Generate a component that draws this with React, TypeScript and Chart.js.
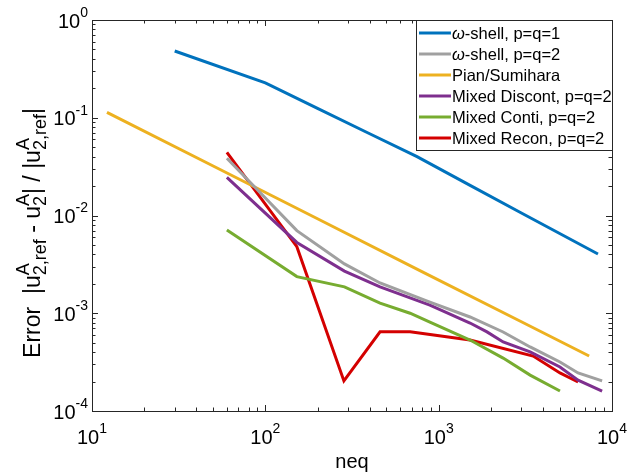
import React, { useEffect, useRef } from 'react';
import { Chart, registerables } from 'chart.js';
Chart.register(...registerables);

// ---- data ----
const blueX = [30, 100, 200, 400, 750, 1500, 3000, 8300];
const blueY = [0.482, 0.227, 0.125, 0.0686, 0.04, 0.0206, 0.0106, 0.00404];

const grayX = [60, 152, 286, 459, 890, 1517, 2355, 3370, 5010, 6370, 8770];
const grayY = [0.0385, 0.007, 0.0032, 0.00204, 0.0013, 0.000916, 0.000643, 0.000452, 0.000317, 0.000245, 0.000203];

const orangeX = [12.2, 50, 200, 800, 3000, 7380];
const orangeY = [0.1137, 0.0321, 0.00926, 0.00267, 0.000818, 0.000365];

const purpleX = [60, 152, 286, 459, 890, 1517, 1900, 2355, 3370, 5010, 6370, 8770];
const purpleY = [0.0246, 0.0053, 0.0027, 0.00186, 0.00121, 0.000794, 0.000645, 0.000508, 0.000402, 0.000282, 0.000207, 0.00016];

const greenX = [60, 152, 286, 459, 684, 890, 1517, 2355, 3370, 5010];
const greenY = [0.00711, 0.00237, 0.00186, 0.00127, 0.001, 0.00081, 0.000532, 0.000348, 0.000233, 0.00016];

const redX = [60, 152, 284, 459, 684, 1517, 3510, 5010, 6370];
const redY = [0.0443, 0.0048, 0.000203, 0.000645, 0.000645, 0.000532, 0.000365, 0.000245, 0.000198];

const seriesLabels = [
  'ω-shell, p=q=1',
  'ω-shell, p=q=2',
  'Pian/Sumihara',
  'Mixed Discont, p=q=2',
  'Mixed Conti, p=q=2',
  'Mixed Recon, p=q=2',
];
const seriesColors = ['#0072BD', '#A0A0A0', '#EDB120', '#7E2F8E', '#77AC30', '#D40000'];

const xDecades = [1, 2, 3, 4];
const yDecades = [0, -1, -2, -3, -4];
const xTitle = 'neq';

const FONT = "'Liberation Sans', Arial, Helvetica, sans-serif";

function pts(xs: number[], ys: number[]) {
  return xs.map((x, i) => ({ x, y: ys[i] }));
}

function drawPow(ctx: CanvasRenderingContext2D, exp: string, x: number, y: number, align: 'right' | 'center') {
  ctx.save();
  ctx.fillStyle = '#000';
  ctx.textBaseline = 'middle';
  ctx.font = `20px ${FONT}`;
  const bw = ctx.measureText('10').width;
  ctx.font = `14px ${FONT}`;
  const ew = ctx.measureText(exp).width;
  const total = bw + ew;
  const x0 = align === 'right' ? x - total : x - total / 2;
  ctx.textAlign = 'left';
  ctx.font = `20px ${FONT}`;
  ctx.fillText('10', x0, y);
  ctx.font = `14px ${FONT}`;
  ctx.fillText(exp, x0 + bw, y - 9);
  ctx.restore();
}

type Seg = { t?: string; sup?: string; sub?: string };
const yTitleSegs: Seg[] = [
  { t: 'Error  |u' },
  { sup: 'A', sub: '2,ref' },
  { t: ' - u' },
  { sup: 'A', sub: '2' },
  { t: '| / |u' },
  { sup: 'A', sub: '2,ref' },
  { t: '|' },
];

const TMAIN = 23;
const TSUB = 18;

function segWidth(ctx: CanvasRenderingContext2D, s: Seg) {
  if (s.t !== undefined) {
    ctx.font = `${TMAIN}px ${FONT}`;
    return ctx.measureText(s.t).width;
  }
  ctx.font = `${TSUB}px ${FONT}`;
  return Math.max(ctx.measureText(s.sup || '').width, ctx.measureText(s.sub || '').width);
}

function drawRich(ctx: CanvasRenderingContext2D, segs: Seg[], cx: number, cy: number) {
  ctx.save();
  ctx.translate(cx, cy);
  ctx.rotate(-Math.PI / 2);
  ctx.fillStyle = '#000';
  ctx.textBaseline = 'alphabetic';
  ctx.textAlign = 'left';
  let total = 0;
  for (const s of segs) total += segWidth(ctx, s);
  let x = -total / 2;
  const base = 7;
  for (const s of segs) {
    const w = segWidth(ctx, s);
    if (s.t !== undefined) {
      ctx.font = `${TMAIN}px ${FONT}`;
      ctx.fillText(s.t, x, base);
    } else {
      ctx.font = `${TSUB}px ${FONT}`;
      if (s.sup) ctx.fillText(s.sup, x, base - 11);
      if (s.sub) ctx.fillText(s.sub, x, base + 6);
    }
    x += w;
  }
  ctx.restore();
}

const decorPlugin = {
  id: 'decor',
  afterDraw(chart: any) {
    const ctx: CanvasRenderingContext2D = chart.ctx;
    const { left, right, top, bottom } = chart.chartArea;
    const xs = chart.scales.x;
    const ys = chart.scales.y;
    ctx.save();
    ctx.strokeStyle = '#262626';
    ctx.lineWidth = 1;
    const majorLen = 6;
    const minorLen = 3.5;
    ctx.beginPath();
    for (let d = 1; d <= 4; d++) {
      for (let m = 1; m <= 9; m++) {
        const v = m * Math.pow(10, d);
        if (v > 10000 || (d === 4 && m > 1)) continue;
        const px = Math.round(xs.getPixelForValue(v)) + 0.5;
        const len = m === 1 ? majorLen : minorLen;
        ctx.moveTo(px, bottom);
        ctx.lineTo(px, bottom - len);
        ctx.moveTo(px, top);
        ctx.lineTo(px, top + len);
      }
    }
    for (let d = -4; d <= 0; d++) {
      for (let m = 1; m <= 9; m++) {
        if (d === 0 && m > 1) continue;
        const v = m * Math.pow(10, d);
        const py = Math.round(ys.getPixelForValue(v)) + 0.5;
        const len = m === 1 ? majorLen : minorLen;
        ctx.moveTo(left, py);
        ctx.lineTo(left + len, py);
        ctx.moveTo(right, py);
        ctx.lineTo(right - len, py);
      }
    }
    ctx.stroke();
    ctx.strokeRect(Math.round(left) + 0.5, Math.round(top) + 0.5, Math.round(right - left), Math.round(bottom - top));
    ctx.restore();

    for (const d of xDecades) {
      drawPow(ctx, String(d), xs.getPixelForValue(Math.pow(10, d)), bottom + 27, 'center');
    }
    for (const d of yDecades) {
      drawPow(ctx, String(d), left - 4, ys.getPixelForValue(Math.pow(10, d)) + 2, 'right');
    }

    ctx.save();
    ctx.fillStyle = '#000';
    ctx.font = `20px ${FONT}`;
    ctx.textAlign = 'center';
    ctx.textBaseline = 'middle';
    ctx.fillText(xTitle, (left + right) / 2, bottom + 51);
    ctx.restore();

    drawRich(ctx, yTitleSegs, 33, 233);

    // legend
    const lx0 = 416;
    const ly0 = top;
    const lx1 = right;
    const rowH = 21;
    const ly1 = 150;
    ctx.save();
    ctx.fillStyle = '#fff';
    ctx.fillRect(lx0, ly0, lx1 - lx0, ly1 - ly0);
    ctx.strokeStyle = '#262626';
    ctx.lineWidth = 1;
    ctx.strokeRect(lx0 + 0.5, Math.round(ly0) + 0.5, lx1 - lx0, ly1 - Math.round(ly0));
    ctx.textBaseline = 'middle';
    ctx.textAlign = 'left';
    for (let i = 0; i < seriesLabels.length; i++) {
      const cy = ly0 + 13 + i * rowH;
      ctx.strokeStyle = seriesColors[i];
      ctx.lineWidth = 3;
      ctx.beginPath();
      ctx.moveTo(419, cy);
      ctx.lineTo(451, cy);
      ctx.stroke();
      ctx.fillStyle = '#000';
      const lab = seriesLabels[i];
      let tx = 452;
      if (lab.startsWith('ω')) {
        ctx.font = `italic 16.5px ${FONT}`;
        ctx.fillText('ω', tx, cy + 1);
        tx += ctx.measureText('ω').width;
        ctx.font = `16.5px ${FONT}`;
        ctx.fillText(lab.slice(1), tx, cy + 1);
      } else {
        ctx.font = `16.5px ${FONT}`;
        ctx.fillText(lab, tx, cy + 1);
      }
    }
    ctx.restore();
  },
};

export default function App() {
  const ref = useRef<HTMLCanvasElement>(null);
  useEffect(() => {
    document.body.style.margin = '0';
    const canvas = ref.current!;
    const all = [
      [blueX, blueY],
      [grayX, grayY],
      [orangeX, orangeY],
      [purpleX, purpleY],
      [greenX, greenY],
      [redX, redY],
    ];
    const chart = new Chart(canvas, {
      type: 'line',
      data: {
        datasets: all.map(([xs, ys], i) => ({
          label: seriesLabels[i],
          data: pts(xs, ys),
          borderColor: seriesColors[i],
          backgroundColor: seriesColors[i],
          borderWidth: 3,
          pointRadius: 0,
          tension: 0,
          fill: false,
        })),
      },
      options: {
        animation: false,
        responsive: false,
        devicePixelRatio: 1,
        layout: { padding: { left: 92, right: 16, top: 20, bottom: 61 } },
        plugins: { legend: { display: false }, tooltip: { enabled: false } },
        scales: {
          x: { type: 'logarithmic', min: 10, max: 10000, display: false },
          y: { type: 'logarithmic', min: 1e-4, max: 1, display: false },
        },
      },
      plugins: [decorPlugin],
    });
    return () => chart.destroy();
  }, []);
  return (
    <div style={{ position: 'absolute', left: 0, top: 0, width: 628, height: 472, background: '#fff' }}>
      <canvas ref={ref} width={628} height={472} style={{ width: 628, height: 472 }} />
    </div>
  );
}
